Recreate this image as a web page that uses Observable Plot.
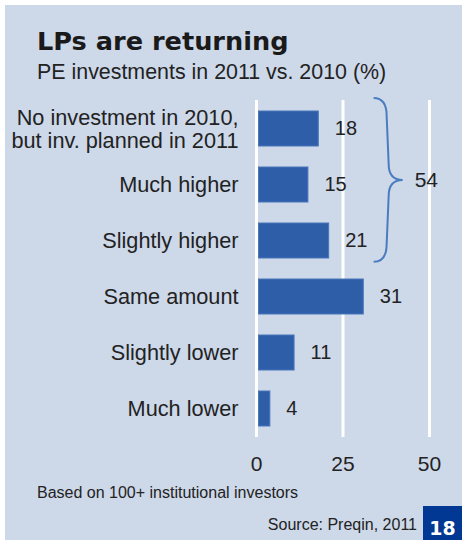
<!DOCTYPE html>
<html>
<head>
<meta charset="utf-8">
<script src="https://cdn.jsdelivr.net/npm/d3@7"></script>
<script src="https://cdn.jsdelivr.net/npm/@observablehq/plot@0.6"></script>
<style>
  html, body { margin: 0; padding: 0; background: #ffffff; }
  #page { position: relative; width: 462px; height: 544px; overflow: hidden; background: #ffffff;
          font-family: "Liberation Sans", Arial, sans-serif; color: #222; }
  #panel { position: absolute; left: 5px; top: 5px; width: 457px; height: 535px; background: #cdd8e9; }
  .t { position: absolute; white-space: nowrap; line-height: 1; }
  #title { left: 37px; top: 28.5px; font-family: "DejaVu Sans", sans-serif; font-weight: bold; font-size: 25.6px; color: #1a1a1a; }
  #subtitle { left: 37px; top: 62px; font-size: 21.4px; color: #222; }
  #note { left: 37px; top: 485px; font-size: 16px; color: #222; }
  #source { right: 45px; top: 517px; font-size: 16px; color: #222; }
  #pagebox { position: absolute; left: 423px; top: 506px; width: 39px; height: 34px; background: #003893; }
  #pagenum { position: absolute; left: 0; width: 39px; text-align: center; top: 13px; font-family: "DejaVu Sans", sans-serif;
             font-weight: bold; font-size: 19px; color: #ffffff; }
  #chart { position: absolute; left: 0; top: 90px; }
</style>
</head>
<body>
<div id="page">
  <div id="panel"></div>
  <div class="t" id="title">LPs are returning</div>
  <div class="t" id="subtitle">PE investments in 2011 vs. 2010 (%)</div>
  <div id="chart"></div>
  <div class="t" id="note">Based on 100+ institutional investors</div>
  <div class="t" id="source">Source: Preqin, 2011</div>
  <div id="pagebox"><div class="t" id="pagenum">18</div></div>
</div>
<script>
const categories = [
  "No investment in 2010,\nbut inv. planned in 2011",
  "Much higher",
  "Slightly higher",
  "Same amount",
  "Slightly lower",
  "Much lower"
];
const values = [18, 15, 21, 31, 11, 4];
const xTicks = [0, 25, 50];
const bracketCategories = categories.slice(0, 3);
const bracketTotal = 54;

const data = categories.map((c, i) => ({category: c, value: values[i]}));
const bracketValues = data.filter(d => bracketCategories.includes(d.category)).map(d => d.value);

function braceMark(index, scales) {
  const x = scales.x, y = scales.y;
  const bw = y.bandwidth();
  const yTop = y(bracketCategories[0]) - 0.37 * bw;
  const yBot = y(bracketCategories[bracketCategories.length - 1]) + bw * 1.11;
  const yMid = (yTop + yBot) / 2;
  const xe = x(d3.max(bracketValues)) + 45;
  const xs = xe + 13, xt = xe + 29;
  const g = d3.create("svg:g");
  g.append("path")
    .attr("fill", "none")
    .attr("stroke", "#4a7dbf")
    .attr("stroke-width", 2)
    .attr("d", `M${xe},${yTop} Q${xs},${yTop} ${xs},${yTop + 18} L${xs + 2},${yMid - 16} Q${xs + 2},${yMid} ${xt},${yMid} Q${xs + 2},${yMid} ${xs + 2},${yMid + 16} L${xs},${yBot - 18} Q${xs},${yBot} ${xe},${yBot}`);
  g.append("text")
    .attr("x", xt + 12)
    .attr("y", yMid)
    .attr("dy", "0.32em")
    .attr("text-anchor", "start")
    .attr("font-size", 21)
    .attr("fill", "#222")
    .text(String(bracketTotal));
  return g.node();
}

const chart = Plot.plot({
  width: 462,
  height: 395,
  marginLeft: 256,
  marginRight: 33,
  marginTop: 10,
  marginBottom: 48,
  style: {background: "transparent", fontFamily: "Liberation Sans, Arial, sans-serif", fontSize: "21px", color: "#222", overflow: "visible"},
  x: {domain: [0, 50], ticks: xTicks, tickSize: 0, tickPadding: 19, label: null},
  y: {domain: categories, paddingInner: 0.38, paddingOuter: 0.19, axis: null},
  marks: [
    Plot.ruleX(xTicks, {stroke: "white", strokeWidth: 3}),
    Plot.barX(data, {x: "value", y: "category", fill: "#2f5ea9", stroke: "#4a76ba", strokeWidth: 1, insetLeft: 2.5}),
    Plot.text(data, {x: "value", y: "category", text: d => String(d.value), textAnchor: "start", dx: 16, fontSize: 20, fill: "#222"}),
    Plot.text(data, {y: "category", text: "category", frameAnchor: "left", textAnchor: "end", dx: -18, fontSize: 21.7, lineHeight: 1.05, fill: "#222"}),
    braceMark
  ]
});
document.getElementById("chart").appendChild(chart);
</script>
</body>
</html>
